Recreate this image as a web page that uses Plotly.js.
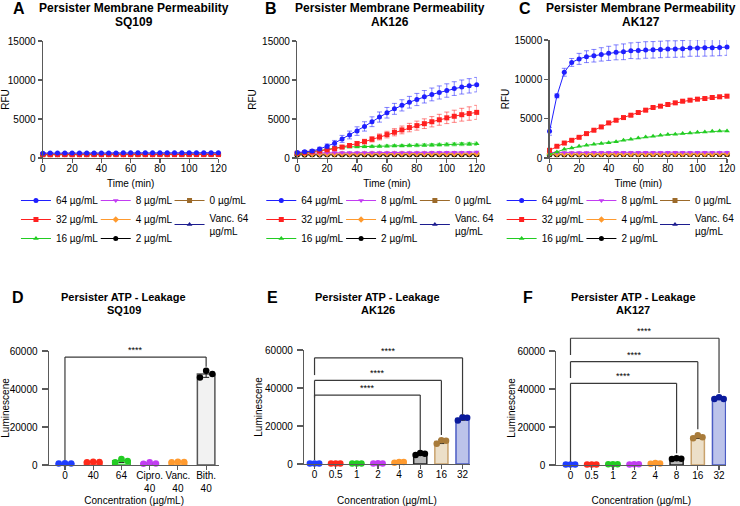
<!DOCTYPE html>
<html><head><meta charset="utf-8">
<script src="https://cdn.plot.ly/plotly-3.0.1.min.js"></script>
<style>html,body{margin:0;padding:0;background:#fff}#chart{width:740px;height:506px}</style>
</head><body><div id="chart"></div>
<script>
// ---------------- DATA ----------------
const time = [0,5,10,15,20,25,30,35,40,45,50,55,60,65,70,75,80,85,90,95,100,105,110,115,120];
const timeTicks = [0,20,40,60,80,100,120];
const seriesNames = ['64 µg/mL','32 µg/mL','16 µg/mL','8 µg/mL','4 µg/mL','2 µg/mL','0 µg/mL','Vanc. 64<br>µg/mL'];

// SQ109 (RFU)
const sq109_64 = [620,630,630,640,640,640,650,650,650,650,650,660,660,660,660,660,660,670,670,670,670,670,680,680,680];
const sq109_32 = [420,425,430,430,430,425,430,435,430,430,435,430,430,435,430,430,435,435,430,435,435,440,435,440,440];
const sq109_16 = [460,465,470,470,470,465,470,470,475,470,470,475,470,475,475,470,475,480,475,480,480,480,485,480,485];
const sq109_8  = [500,505,505,510,505,510,510,510,515,510,515,515,510,515,520,515,520,520,520,525,520,525,525,530,530];
const sq109_4  = [480,480,485,485,480,485,490,485,490,490,490,495,490,495,495,495,500,495,500,500,500,505,500,505,505];
const sq109_2  = [450,450,455,450,455,455,455,460,455,460,460,460,460,465,460,465,465,465,470,465,470,470,470,475,475];
const sq109_0  = [440,440,440,445,440,445,445,445,450,445,450,450,450,450,455,450,455,455,455,455,460,455,460,460,460];
const sq109_v  = [460,460,465,465,465,470,465,470,470,470,475,470,475,475,475,480,475,480,480,480,485,480,485,485,490];

// AK126 (RFU)
const ak126_64  = [700,800,900,1150,1500,1900,2450,2950,3450,4050,4650,5250,5800,6300,6750,7150,7500,7850,8150,8400,8650,8900,9100,9250,9400];
const ak126_64e = [120,150,180,220,300,350,450,500,550,600,630,650,680,700,720,750,780,800,820,840,860,880,900,920,930];
const ak126_32  = [600,700,800,900,1050,1200,1400,1600,1850,2100,2400,2700,3000,3300,3600,3900,4150,4400,4650,4900,5150,5350,5550,5700,5850];
const ak126_32e = [80,90,100,110,130,160,200,230,270,300,340,380,420,460,500,540,580,620,660,700,740,780,820,860,900];
const ak126_16  = [500,650,800,950,1150,1300,1400,1420,1430,1450,1480,1500,1530,1560,1580,1600,1620,1650,1680,1700,1720,1750,1780,1800,1830];
const ak126_16e = [60,70,80,90,100,110,120,120,130,130,140,140,150,150,160,160,170,170,180,180,190,190,200,200,210];
const ak126_8   = [650,660,670,680,680,690,690,700,700,700,700,710,710,710,710,720,720,720,730,730,730,740,740,750,760];
const ak126_4   = [520,520,525,520,525,525,530,525,530,530,530,535,530,535,535,535,540,535,540,540,540,545,540,545,545];
const ak126_2   = [400,400,405,400,405,405,405,410,405,410,410,410,410,415,410,415,415,415,420,415,420,420,420,425,425];
const ak126_0   = [430,430,430,435,430,435,435,435,440,435,440,440,440,440,445,440,445,445,445,445,450,445,450,450,450];
const ak126_v   = [470,470,475,470,475,475,475,480,475,480,480,480,480,485,480,485,485,485,490,485,490,490,490,495,495];

// AK127 (RFU)
const ak127_64  = [3400,7900,10900,12150,12600,12880,13000,13170,13300,13430,13500,13640,13650,13730,13750,13800,13850,13850,13880,13980,13980,14000,14020,14050,14100];
const ak127_64e = [500,250,500,500,700,750,800,850,900,950,1000,1000,1050,1050,1050,1050,1050,1050,1050,1050,1050,1050,1050,1050,1050];
const ak127_32  = [980,1490,1900,2250,2630,3100,3530,3950,4460,4800,5140,5440,5780,6080,6420,6590,6800,7010,7220,7350,7480,7560,7690,7780,7860];
const ak127_32e = [100,100,110,110,120,120,130,130,140,140,150,150,150,160,160,160,170,170,170,180,180,180,190,190,190];
const ak127_16  = [470,770,1100,1280,1490,1610,1740,1830,1950,2080,2250,2380,2550,2680,2760,2890,2980,3020,3100,3190,3270,3310,3400,3420,3440];
const ak127_8   = [700,705,710,710,715,715,720,720,720,720,725,725,725,730,730,730,730,735,735,735,740,740,740,745,745];
const ak127_4   = [500,500,505,500,505,505,505,510,505,510,510,510,510,515,510,515,515,515,520,515,520,520,520,525,525];
const ak127_2   = [420,420,425,420,425,425,425,430,425,430,430,430,430,435,430,435,435,435,440,435,440,440,440,445,445];
const ak127_0   = [430,430,430,435,430,435,435,435,440,435,440,440,440,440,445,440,445,445,445,445,450,445,450,450,450];
const ak127_v   = [460,460,465,460,465,465,465,470,465,470,470,470,470,475,470,475,475,475,480,475,480,480,480,485,485];

// ATP leakage (Luminescence), three replicates per concentration
const sq109Cats = ['0','40','64','Cipro.<br>40','Vanc.<br>40','Bith.<br>40'];
const sq109Reps = [[750,950,850],[1400,1700,1550],[1400,3150,2100],[700,1400,750],[1450,1700,1600],[46100,49600,47900]];
const akCats = ['0','0.5','1','2','4','8','16','32'];
const ak126Reps = [[300,300,300],[250,300,300],[300,300,300],[300,350,300],[700,1050,1050],[4750,5800,5400],[10600,12500,12300],[22900,24600,24300]];
const ak127Reps = [[300,300,300],[300,300,300],[350,350,350],[300,400,450],[700,1000,800],[3150,3600,3300],[14050,15600,14550],[34700,35600,34700]];

// significance brackets: from/to category index, bar height y, left/right leg ends
const sq109Sig = {from:[0], to:[5], y:[56800], yl:[2600], yr:[51700], label:['****']};
const ak126Sig = {from:[0,0,0], to:[5,6,7], y:[36300,44000,55900], yl:[2100,35000,46800], yr:[7400,15300,25800], label:['****','****','****']};
const ak127Sig = {from:[0,0,0], to:[5,6,7], y:[43000,54400,66700], yl:[1700,45800,57900], yr:[6150,18800,37900], label:['****','****','****']};

// ---------------- STYLE ----------------
const W = 740, H = 506;
const FONT = 'Arial, "Liberation Sans", Helvetica, sans-serif';
const axisCol = '#5a5a5a';
const lineColors = ['#1f1fff','#ff2020','#22cc22','#c23cf2','#ff9a2e','#000000','#9c6a2a','#1c1c8f'];
const errColors  = ['rgba(31,31,255,0.55)','rgba(255,32,32,0.55)','rgba(34,204,34,0.55)','rgba(194,60,242,0.5)','rgba(255,154,46,0.5)','rgba(0,0,0,0.5)','rgba(156,106,42,0.5)','rgba(28,28,143,0.5)'];
const symbols = ['circle','square','triangle-up','triangle-down','diamond','circle','square','triangle-up'];
const drawOrder = [6,7,5,4,3,2,1,0];
const legendCol = [0,0,0,1,1,1,2,2];

const sqPts = ['#1f3dff','#ff2a1a','#22cc22','#c23cf2','#ff9a2e','#000000'];
const sqFill = ['#b8c0ff','#ffb8b0','#b8f0b8','#ecc2fa','#ffd9ad','#f2f2f2'];
const sqEdge = ['#3a50ff','#ff3a2a','#33bb33','#c050ee','#ff9a2e','#555555'];
const akPts  = ['#1f3dff','#ff2a1a','#22cc22','#c23cf2','#ff9a2e','#000000','#a87b3a','#0a1a9c'];
const akFill = ['#b8c0ff','#ffb8b0','#b8f0b8','#ecc2fa','#ffd9ad','#b8b8b8','#ecdfc8','#bcc3ea'];
const akEdge = ['#3a50ff','#ff3a2a','#33bb33','#c050ee','#ff9a2e','#222222','#c9a26c','#4b5cc4'];
const jitter = [-0.22, 0, 0.22];

const topBoxes = [{x0:43,x1:219,y0:41,y1:158},{x0:298,x1:478,y0:41,y1:158},{x0:551,x1:729,y0:40,y1:158}];
const botBoxes = [{x0:49,x1:220,y0:351,y1:465},{x0:305,x1:471,y0:350,y1:464},{x0:558,x1:728,y0:351,y1:465}];
const botXRanges = [[-0.57,5.47],[-0.49,7.34],[-0.66,7.33]];
const botYRange = [0,60000];
const legendLeft = [16,262,503];
const legendColOff = [0,80,154];
const legendTop = 186;

function xDom(b){ return [b.x0/W, b.x1/W]; }
function yDom(b){ return [1-b.y1/H, 1-b.y0/H]; }
function baseAxis(){
  return {showline:true, linecolor:axisCol, linewidth:1.3, ticks:'outside', ticklen:4, tickwidth:1.2,
          tickcolor:axisCol, showgrid:false, zeroline:false, fixedrange:true, tickformat:'d',
          tickfont:{family:FONT,size:10,color:'#000'}};
}

// ---------------- BUILD ----------------
const traces = [];
const layout = {
  width:W, height:H, margin:{l:0,r:0,t:0,b:0}, paper_bgcolor:'#fff', plot_bgcolor:'rgba(0,0,0,0)',
  font:{family:FONT,color:'#000'}, showlegend:true, hovermode:false,
  annotations:[], shapes:[]
};

const topPanels = [
  {letter:'A', sub:'SQ109', data:[sq109_64,sq109_32,sq109_16,sq109_8,sq109_4,sq109_2,sq109_0,sq109_v], err:[null,null,null,null,null,null,null,null]},
  {letter:'B', sub:'AK126', data:[ak126_64,ak126_32,ak126_16,ak126_8,ak126_4,ak126_2,ak126_0,ak126_v], err:[ak126_64e,ak126_32e,ak126_16e,null,null,null,null,null]},
  {letter:'C', sub:'AK127', data:[ak127_64,ak127_32,ak127_16,ak127_8,ak127_4,ak127_2,ak127_0,ak127_v], err:[ak127_64e,ak127_32e,null,null,null,null,null,null]}
];

topPanels.forEach((p, pi) => {
  const n = pi + 1;
  const xa = 'x' + (n === 1 ? '' : n), ya = 'y' + (n === 1 ? '' : n);
  const b = topBoxes[pi];
  layout['xaxis' + (n === 1 ? '' : n)] = Object.assign(baseAxis(), {
    domain:xDom(b), anchor:ya, range:[0,120], tickvals:timeTicks, ticklabelstandoff:-3,
    title:{text:'Time (min)', font:{family:FONT,size:10,color:'#000'}, standoff:6}
  });
  layout['yaxis' + (n === 1 ? '' : n)] = Object.assign(baseAxis(), {
    domain:yDom(b), anchor:xa, range:[0,15000], tickvals:[0,5000,10000,15000],
    title:{text:'RFU', font:{family:FONT,size:10,color:'#000'}, standoff:3}
  });
  drawOrder.forEach(si => {
    const lnum = pi * 3 + legendCol[si] + 1;
    const t = {
      type:'scatter', mode:'lines+markers', x:time, y:p.data[si], xaxis:xa, yaxis:ya,
      name:seriesNames[si], legend: lnum === 1 ? 'legend' : 'legend' + lnum, legendrank: si * 10 + 1,
      line:{color:lineColors[si], width:1},
      marker:{color:lineColors[si], symbol:symbols[si], size:5},
      cliponaxis:false
    };
    if (p.err[si]) t.error_y = {type:'data', array:p.err[si], visible:true, color:errColors[si], thickness:1, width:2.5};
    traces.push(t);
  });
  for (let c = 0; c < 3; c++) {
    const lnum = pi * 3 + c + 1;
    layout[lnum === 1 ? 'legend' : 'legend' + lnum] = {
      x:(legendLeft[pi] + legendColOff[c]) / W, y:1 - legendTop / H, xanchor:'left', yanchor:'top',
      bgcolor:'rgba(0,0,0,0)', borderwidth:0, font:{family:FONT,size:10,color:'#000'},
      tracegroupgap:0, orientation:'v'
    };
  }
  const cx = (b.x0 + b.x1) / 2;
  layout.annotations.push(
    {xref:'paper', yref:'paper', x:cx / W + 0.004, y:1 - 8 / H, text:'<b>Persister Membrane Permeability</b>', showarrow:false, font:{family:FONT,size:12}, xanchor:'center', yanchor:'middle'},
    {xref:'paper', yref:'paper', x:cx / W + 0.004, y:1 - 22 / H, text:'<b>' + p.sub + '</b>', showarrow:false, font:{family:FONT,size:12}, xanchor:'center', yanchor:'middle'},
    {xref:'paper', yref:'paper', x:[19,272,526][pi] / W, y:1 - 8 / H, text:'<b>' + p.letter + '</b>', showarrow:false, font:{family:FONT,size:16}, xanchor:'center', yanchor:'middle'}
  );
});

const botPanels = [
  {letter:'D', sub:'SQ109', cats:sq109Cats, reps:sq109Reps, sig:sq109Sig, pts:sqPts, fill:sqFill, edge:sqEdge, standoff:15},
  {letter:'E', sub:'AK126', cats:akCats, reps:ak126Reps, sig:ak126Sig, pts:akPts, fill:akFill, edge:akEdge, standoff:17},
  {letter:'F', sub:'AK127', cats:akCats, reps:ak127Reps, sig:ak127Sig, pts:akPts, fill:akFill, edge:akEdge, standoff:17}
];

botPanels.forEach((p, bi) => {
  const n = bi + 4;
  const xa = 'x' + n, ya = 'y' + n;
  const b = botBoxes[bi], xr = botXRanges[bi];
  const idx = p.cats.map((_, i) => i);
  layout['xaxis' + n] = Object.assign(baseAxis(), {
    domain:xDom(b), anchor:ya, range:xr, tickvals:idx, ticktext:p.cats, ticklabelstandoff:-3,
    title:{text:'Concentration (µg/mL)', font:{family:FONT,size:10,color:'#000'}, standoff:p.standoff}
  });
  layout['yaxis' + n] = Object.assign(baseAxis(), {
    domain:yDom(b), anchor:xa, range:botYRange, tickvals:[0,20000,40000,60000],
    ticklen:6, ticklabelstandoff:2,
    title:{text:'Luminescene', font:{family:FONT,size:10,color:'#000'}, standoff:0}
  });
  const means = p.reps.map(r => r.reduce((a, v) => a + v, 0) / r.length);
  const sds = p.reps.map((r, i) => Math.sqrt(r.reduce((a, v) => a + (v - means[i]) ** 2, 0) / (r.length - 1)));
  traces.push({
    type:'bar', x:idx, y:means, xaxis:xa, yaxis:ya, width:0.62, showlegend:false,
    marker:{color:p.fill, line:{color:p.edge, width:1.5}},
    error_y:{type:'data', array:sds, visible:true, color:'#222', thickness:1, width:3}
  });
  const px = [], py = [], pc = [];
  p.reps.forEach((r, i) => r.forEach((v, k) => { px.push(i + jitter[k]); py.push(v); pc.push(p.pts[i]); }));
  traces.push({type:'scatter', mode:'markers', x:px, y:py, xaxis:xa, yaxis:ya, showlegend:false, cliponaxis:false,
               marker:{color:pc, size:6.5, line:{width:0}}});

  const toX = v => (b.x0 + (v - xr[0]) / (xr[1] - xr[0]) * (b.x1 - b.x0)) / W;
  const toY = v => 1 - (b.y1 - (v - botYRange[0]) / (botYRange[1] - botYRange[0]) * (b.y1 - b.y0)) / H;
  const s = p.sig;
  s.from.forEach((f, k) => {
    const ln = {type:'line', xref:'paper', yref:'paper', line:{color:'#3a3a3a', width:1.2}};
    layout.shapes.push(
      Object.assign({}, ln, {x0:toX(f), x1:toX(f), y0:toY(s.yl[k]), y1:toY(s.y[k])}),
      Object.assign({}, ln, {x0:toX(f), x1:toX(s.to[k]), y0:toY(s.y[k]), y1:toY(s.y[k])}),
      Object.assign({}, ln, {x0:toX(s.to[k]), x1:toX(s.to[k]), y0:toY(s.y[k]), y1:toY(s.yr[k])})
    );
    layout.annotations.push({xref:'paper', yref:'paper', x:(toX(f) + toX(s.to[k])) / 2, y:toY(s.y[k]),
      text:s.label[k], showarrow:false, xanchor:'center', yanchor:'bottom', font:{family:FONT,size:9}});
  });

  const cx = [124,379,635][bi];
  layout.annotations.push(
    {xref:'paper', yref:'paper', x:cx / W, y:1 - 297 / H, text:'<b>Persister ATP - Leakage</b>', showarrow:false, font:{family:FONT,size:11}, xanchor:'center', yanchor:'middle'},
    {xref:'paper', yref:'paper', x:cx / W, y:1 - 310 / H, text:'<b>' + p.sub + '</b>', showarrow:false, font:{family:FONT,size:11}, xanchor:'center', yanchor:'middle'},
    {xref:'paper', yref:'paper', x:[18,273,529][bi] / W, y:1 - 297 / H, text:'<b>' + p.letter + '</b>', showarrow:false, font:{family:FONT,size:16}, xanchor:'center', yanchor:'middle'}
  );
});

Plotly.newPlot('chart', traces, layout, {staticPlot:true, displayModeBar:false});
</script>
</body></html>
